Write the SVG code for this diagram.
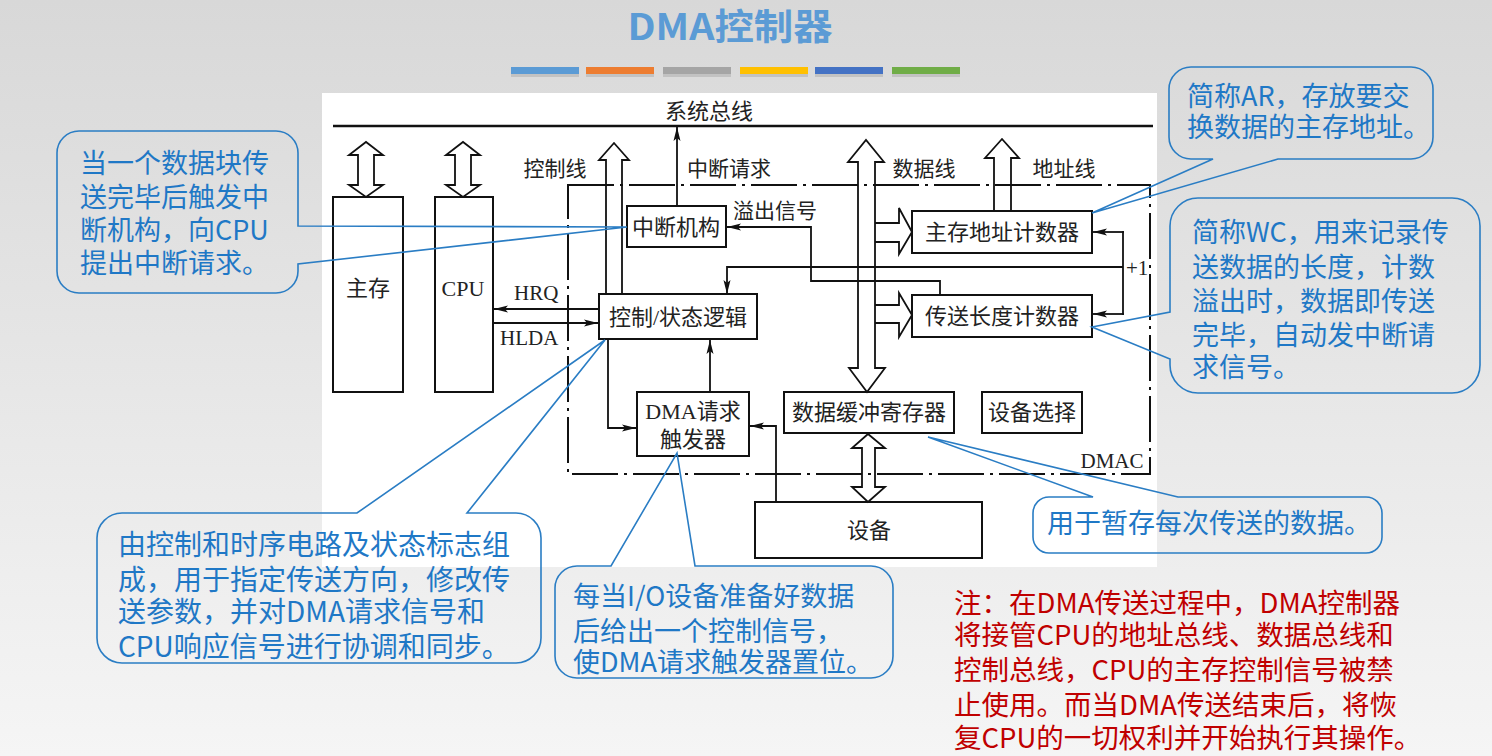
<svg xmlns="http://www.w3.org/2000/svg" width="1492" height="756" viewBox="0 0 1492 756">
<defs>
<linearGradient id="bg" x1="0" y1="0" x2="0" y2="1">
<stop offset="0" stop-color="#d8d8d8"/>
<stop offset="1" stop-color="#f5f5f5"/>
</linearGradient>
<marker id="ah" markerUnits="userSpaceOnUse" markerWidth="14" markerHeight="10" viewBox="0 0 14 10" refX="14" refY="5" orient="auto">
<path d="M0,1.5 L14,5 L0,8.5 L3,5 Z" fill="#111"/>
</marker>
<style>
.ln{fill:none;stroke:#111;stroke-width:1.8}
.box{fill:none;stroke:#111;stroke-width:2}
.hol{fill:none;stroke:#111;stroke-width:1.8;stroke-linejoin:miter}
.dmac{fill:none;stroke:#111;stroke-width:2;stroke-dasharray:46 6 3 6}
.t{font-family:"Liberation Serif","Noto Sans CJK SC",serif;font-size:22px;fill:#222}
.tl{font-family:"Liberation Serif","Noto Sans CJK SC",serif;font-size:21px;fill:#222}
.co{fill:none;stroke:#2a7dc4;stroke-width:1.6}
.ct{font-family:"Noto Sans CJK SC","Noto Sans",sans-serif;font-size:27px;fill:#1f78c6}
.ct28{font-family:"Noto Sans CJK SC","Noto Sans",sans-serif;font-size:28px;fill:#1f78c6}
.rt{font-family:"Noto Sans CJK SC","Noto Sans",sans-serif;font-size:27.5px;fill:#c00000}
</style>
</defs>
<rect x="0" y="0" width="1492" height="756" fill="url(#bg)"/>
<text x="730" y="40" text-anchor="middle" font-family="Noto Sans CJK SC,sans-serif" font-weight="bold" font-size="36" fill="#5b9bd5" textLength="205" lengthAdjust="spacingAndGlyphs">DMA控制器</text>
<g id="bars">
<rect x="511" y="70" width="68" height="7" fill="#aaa" opacity="0.5"/>
<rect x="586" y="70" width="68" height="7" fill="#aaa" opacity="0.5"/>
<rect x="663" y="70" width="68" height="7" fill="#aaa" opacity="0.5"/>
<rect x="740" y="70" width="68" height="7" fill="#aaa" opacity="0.5"/>
<rect x="815" y="70" width="68" height="7" fill="#aaa" opacity="0.5"/>
<rect x="892" y="70" width="68" height="7" fill="#aaa" opacity="0.5"/>
<rect x="511" y="67" width="68" height="7" fill="#5b9bd5"/>
<rect x="586" y="67" width="68" height="7" fill="#ed7d31"/>
<rect x="663" y="67" width="68" height="7" fill="#a5a5a5"/>
<rect x="740" y="67" width="68" height="7" fill="#ffc000"/>
<rect x="815" y="67" width="68" height="7" fill="#4472c4"/>
<rect x="892" y="67" width="68" height="7" fill="#70ad47"/>
</g>
<rect x="322" y="93" width="835" height="474" fill="#fff"/>

<g id="bus">
<line x1="333" y1="126" x2="1153" y2="126" stroke="#111" stroke-width="2.5"/>
<text class="t" x="709" y="119" text-anchor="middle">系统总线</text>
</g>
<g id="dmac">
<rect class="dmac" x="568" y="185" width="582" height="289"/>
<text class="tl" x="1112" y="468" text-anchor="middle">DMAC</text>
</g>

<g id="mem">
<rect class="box" x="333" y="197" width="70" height="195"/>
<text class="t" x="368" y="296" text-anchor="middle">主存</text>
</g>
<g id="cpu">
<rect class="box" x="435" y="197" width="58" height="195"/>
<text class="t" x="463" y="296" text-anchor="middle">CPU</text>
</g>
<g id="intr">
<rect class="box" x="627" y="206" width="99" height="41"/>
<text class="t" x="676" y="235" text-anchor="middle">中断机构</text>
</g>
<g id="ctrl">
<rect class="box" x="599" y="294" width="158" height="45"/>
<text class="t" x="678" y="325" text-anchor="middle">控制/状态逻辑</text>
</g>
<g id="dmareq">
<rect class="box" x="637" y="392" width="112" height="64"/>
<text class="t" x="693" y="419" text-anchor="middle">DMA请求</text>
<text class="t" x="693" y="447" text-anchor="middle">触发器</text>
</g>
<g id="ar">
<rect class="box" x="912" y="211" width="180" height="42"/>
<text class="t" x="1002" y="240" text-anchor="middle">主存地址计数器</text>
</g>
<g id="wc">
<rect class="box" x="912" y="295" width="180" height="42"/>
<text class="t" x="1002" y="324" text-anchor="middle">传送长度计数器</text>
</g>
<g id="buf">
<rect class="box" x="784" y="392" width="170" height="41"/>
<text class="t" x="869" y="420" text-anchor="middle">数据缓冲寄存器</text>
</g>
<g id="devsel">
<rect class="box" x="982" y="392" width="100" height="41"/>
<text class="t" x="1032" y="420" text-anchor="middle">设备选择</text>
</g>
<g id="dev">
<rect class="box" x="755" y="502" width="227" height="56"/>
<text class="t" x="869" y="538" text-anchor="middle">设备</text>
</g>

<g id="connectors">
<path class="hol" d="M358,155 L349,155 L366,142 L383,155 L374,155 L374,185 L383,185 L366,197 L349,185 L358,185 Z"/>
<path class="hol" d="M455,155 L446,155 L463,142 L480,155 L471,155 L471,185 L480,185 L463,197 L446,185 L455,185 Z"/>
<path class="hol" d="M606,294 L606,160 L599,160 L614,143 L629,160 L622,160 L622,294"/>
<path class="hol" d="M994,211 L994,158 L985,158 L1002,139 L1019,158 L1011,158 L1011,211"/>
<path class="hol" d="M858,162 L848,162 L866,140 L884,162 L875,162 L875,368 L885,368 L867,392 L849,368 L858,368 Z"/>
<path class="hol" d="M875,223 L899,223 L899,208 L912,232 L899,254 L899,242 L875,242"/>
<path class="hol" d="M875,305 L899,305 L899,293 L912,315 L899,337 L899,323 L875,323"/>
<path class="hol" d="M862,448 L852,448 L868,434 L885,448 L875,448 L875,487 L885,487 L868,502 L852,487 L862,487 Z"/>
<text class="tl" x="555" y="176" text-anchor="middle">控制线</text>
<text class="tl" x="729" y="176" text-anchor="middle">中断请求</text>
<text class="tl" x="924" y="176" text-anchor="middle">数据线</text>
<text class="tl" x="1064" y="176" text-anchor="middle">地址线</text>
<text class="tl" x="733" y="218">溢出信号</text>
<line class="ln" x1="677" y1="206" x2="677" y2="127" marker-end="url(#ah)"/>
<polyline class="ln" points="940,295 940,281 811,281 811,227 727,227" marker-end="url(#ah)"/>
<polyline class="ln" points="1123,267 727,267 727,294" marker-end="url(#ah)"/>
<line class="ln" x1="1123" y1="231" x2="1123" y2="315"/>
<line class="ln" x1="1124" y1="232" x2="1093" y2="232" marker-end="url(#ah)"/>
<line class="ln" x1="1124" y1="314" x2="1093" y2="314" marker-end="url(#ah)"/>
<text class="tl" x="1126" y="275">+1</text>
<line class="ln" x1="599" y1="309" x2="494" y2="309" marker-end="url(#ah)"/>
<line class="ln" x1="493" y1="323" x2="598" y2="323" marker-end="url(#ah)"/>
<text class="tl" x="514" y="300">HRQ</text>
<text class="tl" x="500" y="345">HLDA</text>
<polyline class="ln" points="608,339 608,428 636,428" marker-end="url(#ah)"/>
<line class="ln" x1="710" y1="392" x2="710" y2="340" marker-end="url(#ah)"/>
<polyline class="ln" points="776,502 776,426 750,426" marker-end="url(#ah)"/>
</g>

<g id="callout-intr">
<path class="co" d="M79,131 H276 A22,22 0 0 1 298,153 V226 L627,227 L298,264 V271 A22,22 0 0 1 276,293 H79 A22,22 0 0 1 57,271 V153 A22,22 0 0 1 79,131 Z"/>
<text class="ct" x="80" y="173">当一个数据块传</text>
<text class="ct" x="80" y="207">送完毕后触发中</text>
<text class="ct" x="80" y="240">断机构，向CPU</text>
<text class="ct" x="80" y="273">提出中断请求。</text>
</g>
<g id="callout-ar">
<path class="co" d="M1191,67 H1411 A22,22 0 0 1 1433,89 V137 A22,22 0 0 1 1411,159 H1278 L1092,213 L1213,159 H1191 A22,22 0 0 1 1169,137 V89 A22,22 0 0 1 1191,67 Z"/>
<text class="ct" x="1187" y="106">简称AR，存放要交</text>
<text class="ct" x="1187" y="137">换数据的主存地址。</text>
</g>
<g id="callout-wc">
<path class="co" d="M1198,198 H1452 A28,28 0 0 1 1480,226 V365 A28,28 0 0 1 1452,393 H1198 A28,28 0 0 1 1170,365 V359 L1092,327 L1170,312 V226 A28,28 0 0 1 1198,198 Z"/>
<text class="ct" x="1192" y="242">简称WC，用来记录传</text>
<text class="ct" x="1192" y="277">送数据的长度，计数</text>
<text class="ct" x="1192" y="311">溢出时，数据即传送</text>
<text class="ct" x="1192" y="345">完毕，自动发中断请</text>
<text class="ct" x="1192" y="377">求信号。</text>
</g>
<g id="callout-ctrl">
<path class="co" d="M122,513 H357 L605,340 L467,513 H516 A25,25 0 0 1 541,538 V638 A25,25 0 0 1 516,663 H122 A25,25 0 0 1 97,638 V538 A25,25 0 0 1 122,513 Z"/>
<text class="ct28" x="118" y="555">由控制和时序电路及状态标志组</text>
<text class="ct28" x="118" y="590">成，用于指定传送方向，修改传</text>
<text class="ct28" x="118" y="622">送参数，并对DMA请求信号和</text>
<text class="ct28" x="118" y="657">CPU响应信号进行协调和同步。</text>
</g>
<g id="callout-req">
<path class="co" d="M577,566 H611 L677,453 L695,566 H871 A22,22 0 0 1 893,588 V656 A22,22 0 0 1 871,678 H577 A22,22 0 0 1 555,656 V588 A22,22 0 0 1 577,566 Z"/>
<text class="ct" x="573" y="606">每当I/O设备准备好数据</text>
<text class="ct" x="573" y="641">后给出一个控制信号，</text>
<text class="ct" x="573" y="672">使DMA请求触发器置位。</text>
</g>
<g id="callout-buf">
<path class="co" d="M1049,497 H1093 L928,437 L1178,497 H1366 A16,16 0 0 1 1382,513 V537 A16,16 0 0 1 1366,553 H1049 A16,16 0 0 1 1033,537 V513 A16,16 0 0 1 1049,497 Z"/>
<text class="ct" x="1047" y="533">用于暂存每次传送的数据。</text>
</g>
<g id="note">
<text class="rt" x="954" y="613">注：在DMA传送过程中，DMA控制器</text>
<text class="rt" x="954" y="645">将接管CPU的地址总线、数据总线和</text>
<text class="rt" x="954" y="680">控制总线，CPU的主存控制信号被禁</text>
<text class="rt" x="954" y="715">止使用。而当DMA传送结束后，将恢</text>
<text class="rt" x="954" y="748">复CPU的一切权利并开始执行其操作。</text>
</g>
</svg>
